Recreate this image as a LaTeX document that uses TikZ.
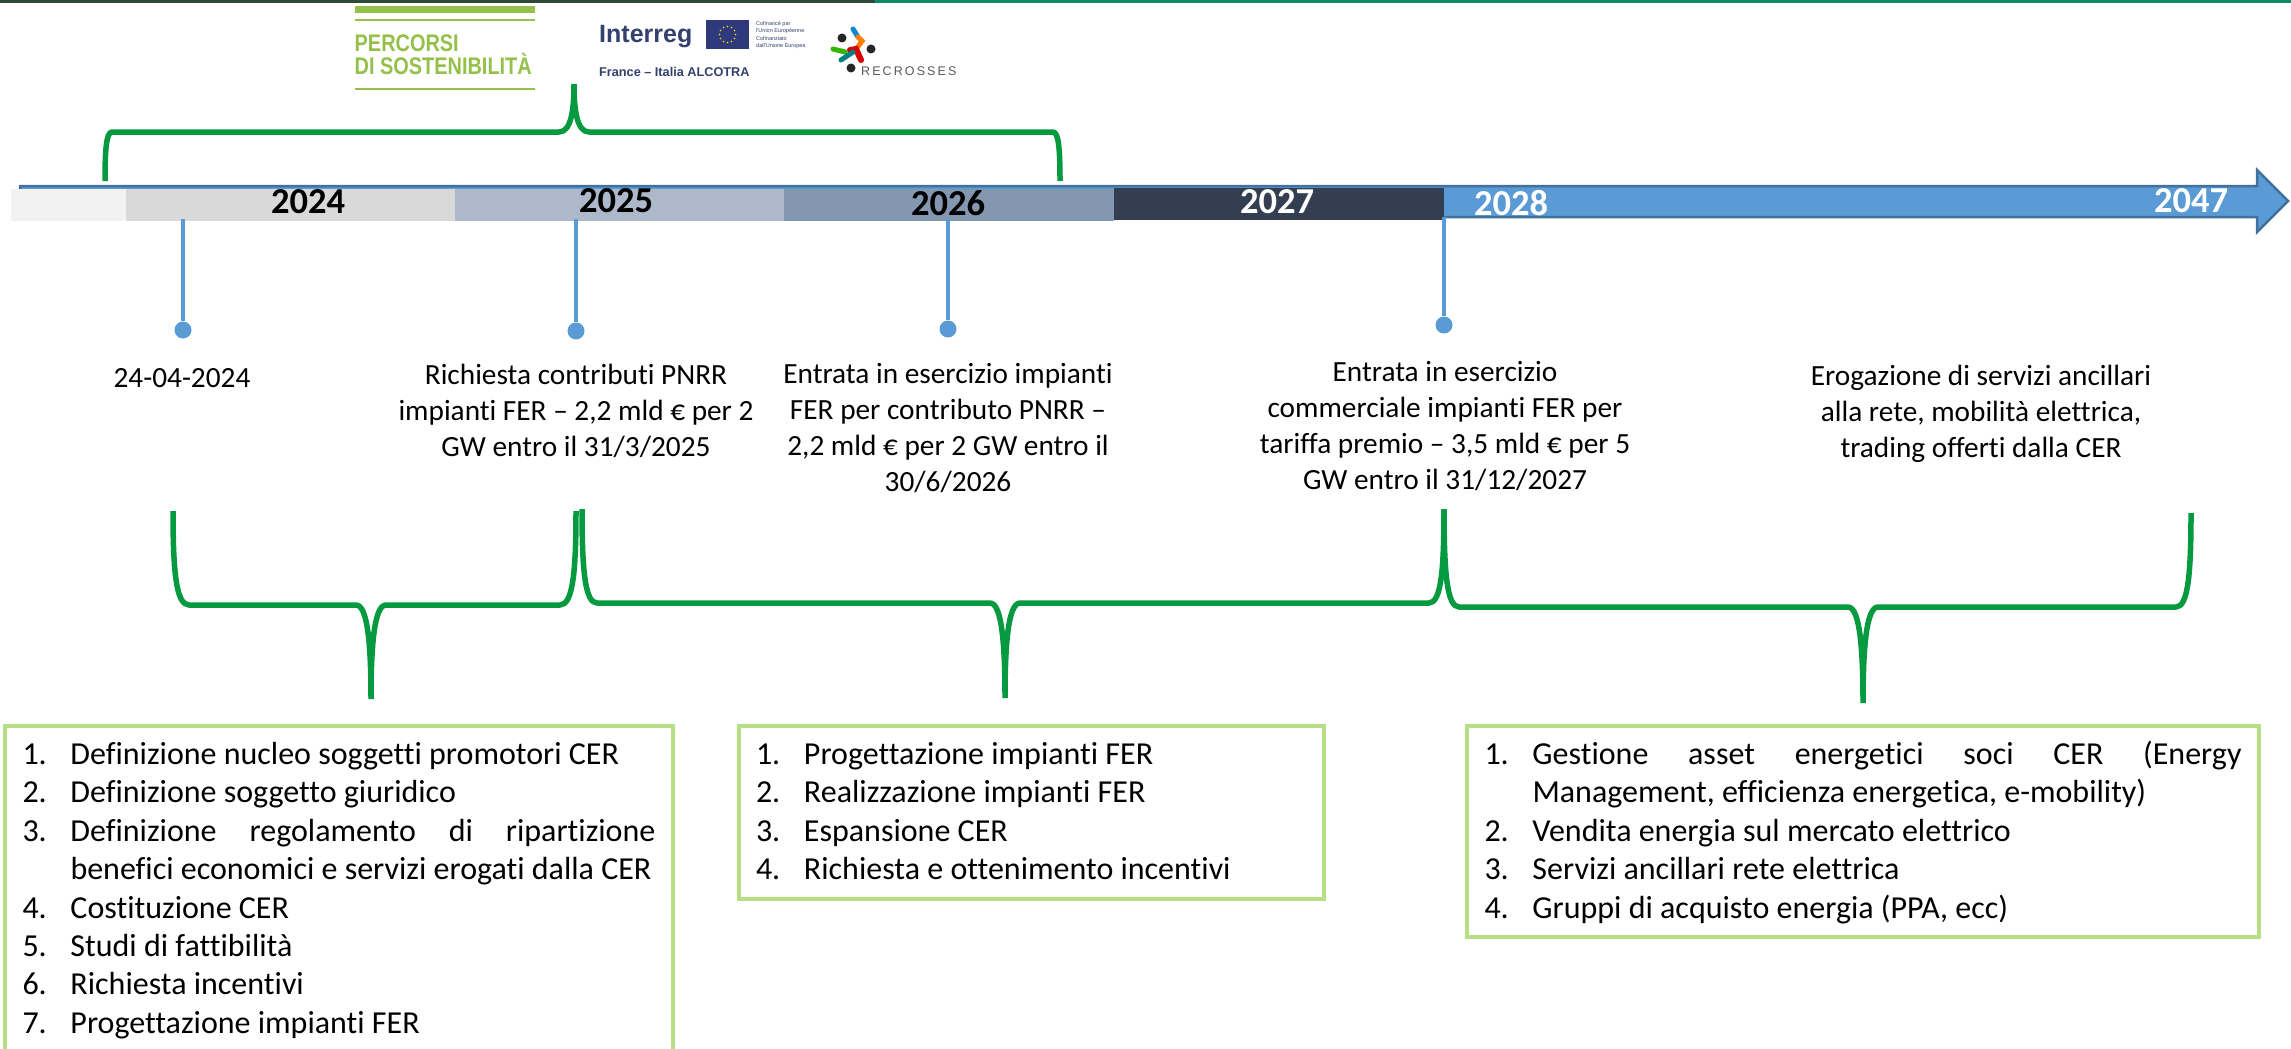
\documentclass[tikz,border=0pt]{standalone}
\usepackage{fontspec}
\setmainfont[Ligatures=NoCommon]{Carlito}
\newfontfamily\logofont{Liberation Sans}
\usetikzlibrary{positioning}

\definecolor{bracegreen}{HTML}{069A40}
\definecolor{boxgreen}{HTML}{B5DE85}
\definecolor{logogreen}{HTML}{95C04A}
\definecolor{logonavy}{HTML}{34416F}
\definecolor{arrowblue}{HTML}{5B9BD5}
\definecolor{arrowedge}{HTML}{41719C}
\definecolor{topdark}{HTML}{2F4A35}
\definecolor{topteal}{HTML}{0A8A6A}
\definecolor{bar2025col}{HTML}{ADB9CA}
\definecolor{bar2026col}{HTML}{8497B0}
\definecolor{bar2027col}{HTML}{333F50}

\newcommand{\numitem}[2]{\par\noindent\hangindent=48pt\hangafter=1\hbox to 48pt{#1\hfill}#2\par}
\newcommand{\listpad}{\rule[-19pt]{0pt}{1pt}}
\newcommand{\greenbrace}[8]{%
    \draw[bracestroke] (#1,#2)
    .. controls (#1,{#2+0.65*(#5-#2)}) and ({#1+0.2*#8},#5) .. ({#1+#8},#5)
    -- ({#6-15},#5)
    .. controls ({#6-3},#5) and (#6,{#5+0.45*(#7-#5)}) .. (#6,#7)
    .. controls (#6,{#5+0.45*(#7-#5)}) and ({#6+3},#5) .. ({#6+15},#5)
    -- ({#3-#8},#5)
    .. controls ({#3-0.2*#8},#5) and (#3,{#4+0.65*(#5-#4)}) .. (#3,#4);
}

\tikzset{
    bracestroke/.style={draw=bracegreen, line width=5.5pt, line join=bevel},
    yearbar/.style={rectangle, minimum height=32pt, inner sep=0pt},
    yearlabel/.style={font=\fontsize{36.5}{36.5}\selectfont\bfseries, inner sep=0pt},
    stem/.style={draw=arrowblue, line width=3.5pt},
    stemdot/.style={circle, fill=arrowblue, minimum size=17pt, inner sep=0pt},
    eventtext/.style={align=center, inner sep=0pt, font=\fontsize{29.3}{36}\selectfont},
    listbox/.style={draw=boxgreen, line width=4pt, anchor=north west, align=justify,
        inner xsep=17.5pt, inner ysep=0pt, font=\fontsize{32}{38.4}\selectfont},
    logorule/.style={fill=logogreen},
    logotitle/.style={inner sep=0pt, anchor=west, text=logogreen, font=\logofont\fontsize{24}{24}\selectfont\bfseries},
    logotext/.style={inner sep=0pt, anchor=west, text=logonavy}
}

\begin{document}
\begin{tikzpicture}[x=1pt, y=-1pt]
    \useasboundingbox (0,0) rectangle (2291,1049);
    \clip (0,0) rectangle (2291,1049);

    \fill[white] (0,0) rectangle (2291,1049);
    \fill[topdark] (0,0) rectangle (875,3.5);
    \fill[topteal] (875,0) rectangle (2291,3.5);

    \fill[logorule] (354.5,6) rectangle (535,13);
    \fill[logorule] (354.5,19) rectangle (535,21.5);
    \fill[logorule] (354.5,88) rectangle (535,90);
    \node[logotitle] (percorsi) at (354.5,43) {\scalebox{.83}[1]{PERCORSI}};
    \node[logotitle] (sostenibilita) at (354.5,64) {\scalebox{.83}[1]{DI SOSTENIBILITÀ}};

    \node[logotext, font=\logofont\fontsize{25}{25}\selectfont\bfseries] (interreg) at (599,37) {Interreg};
    \node[logotext, font=\logofont\fontsize{12.7}{12.7}\selectfont\bfseries] (alcotra) at (599,72) {France – Italia ALCOTRA};
    \fill[logonavy!90!blue] (706,20) rectangle (749,49);
    \foreach \a in {0,30,...,330}
        \fill[yellow!85!orange] (727.5,34.5) ++(\a:8) circle (0.9);
    \node[logotext, font=\logofont\fontsize{5.5}{5.5}\selectfont] (eu1) at (756,24) {Cofinancé par};
    \node[logotext, font=\logofont\fontsize{5.5}{5.5}\selectfont] (eu2) at (756,31) {l'Union Européenne};
    \node[logotext, font=\logofont\fontsize{5.5}{5.5}\selectfont] (eu3) at (756,39) {Cofinanziato};
    \node[logotext, font=\logofont\fontsize{5.5}{5.5}\selectfont] (eu4) at (756,46) {dall'Unione Europea};

    \draw[cyan!70!blue, line width=5pt, line cap=round] (853,29) -- (858,37);
    \draw[orange, line width=5pt, line cap=round] (858,37) -- (862,41) -- (857,48);
    \draw[green!65!black!80!yellow, line width=5pt, line cap=round] (833,49) -- (845,52);
    \draw[red!85!black, line width=6pt, line cap=round] (850,50) -- (856,49) -- (861,60);
    \draw[teal, line width=5pt, line cap=round] (853,52) -- (841,60);
    \fill[black!85] (842,38) circle (4.5);
    \fill[black!85] (871,49) circle (4.5);
    \fill[black!85] (851,68) circle (4.5);
    \node[logotext, text=black!65, font=\logofont\fontsize{12.5}{12.5}\selectfont] (recrosses) at (861,71) {R\,E\,C\,R\,O\,S\,S\,E\,S};

    \draw[fill=arrowblue, draw=arrowedge, line width=2.5pt]
    (20,186) -- (2257,186) -- (2257,170) -- (2288,201) -- (2257,232) -- (2257,217) -- (20,217) -- cycle;

    \node[yearbar, minimum width=115pt, fill=black!5] (bar0) at (68.5,204.5) {};
    \node[yearbar, minimum width=329pt, fill=black!15] (bar2024) at (290.5,204.5) {};
    \node[yearbar, minimum width=329pt, fill=bar2025col] (bar2025) at (619.5,204.5) {};
    \node[yearbar, minimum width=330pt, fill=bar2026col] (bar2026) at (949,204.5) {};
    \node[yearbar, minimum width=330pt, fill=bar2027col] (bar2027) at (1279,204) {};

    \node[yearlabel] (y2024) at (308,202) {2024};
    \node[yearlabel] (y2025) at (616,201) {2025};
    \node[yearlabel] (y2026) at (948,203) {2026};
    \node[yearlabel, text=white] (y2027) at (1277,202) {2027};
    \node[yearlabel, text=white] (y2028) at (1511,203) {2028};
    \node[yearlabel, text=white] (y2047) at (2191,201) {2047};

    \coordinate (s1) at (183,219);
    \coordinate (s2) at (576,219);
    \coordinate (s3) at (948,219);
    \coordinate (s4) at (1444,217);
    \node[stemdot] (d1) at (183,330) {};
    \node[stemdot] (d2) at (576,331) {};
    \node[stemdot] (d3) at (948,329) {};
    \node[stemdot] (d4) at (1444,325) {};
    \draw[stem] (s1) -- (d1);
    \draw[stem] (s2) -- (d2);
    \draw[stem] (s3) -- (d3);
    \draw[stem] (s4) -- (d4);

    \node[eventtext] (ev1) at (182,378) {24-04-2024};
    \node[eventtext] (ev2) at (576,411) {Richiesta contributi PNRR\\impianti FER – 2,2 mld € per 2\\GW entro il 31/3/2025};
    \node[eventtext] (ev3) at (948,428) {Entrata in esercizio impianti\\FER per contributo PNRR –\\2,2 mld € per 2 GW entro il\\30/6/2026};
    \node[eventtext] (ev4) at (1445,426) {Entrata in esercizio\\commerciale impianti FER per\\tariffa premio – 3,5 mld € per 5\\GW entro il 31/12/2027};
    \node[eventtext] (ev5) at (1981,414) {Erogazione di servizi ancillari\\alla rete, mobilità elettrica,\\trading offerti dalla CER};

    \greenbrace{105}{181}{1060}{181}{132}{574}{84}{7}
    \greenbrace{173}{511}{576}{511}{605}{371}{699}{16}
    \greenbrace{582}{509}{1444}{509}{603}{1005}{698}{15}
    \greenbrace{1444}{509}{2191}{513}{607}{1863}{703}{15}

    \node[listbox, text width=633pt] (box1) at (3,724) {%
        \numitem{1.}{Definizione nucleo soggetti promotori CER}
        \numitem{2.}{Definizione soggetto giuridico}
        \numitem{3.}{Definizione regolamento di ripartizione\linebreak benefici economici e servizi erogati dalla CER}
        \numitem{4.}{Costituzione CER}
        \numitem{5.}{Studi di fattibilità}
        \numitem{6.}{Richiesta incentivi}
        \numitem{7.}{Progettazione impianti FER\listpad}};

    \node[listbox, text width=550pt] (box2) at (736.5,724) {%
        \numitem{1.}{Progettazione impianti FER}
        \numitem{2.}{Realizzazione impianti FER}
        \numitem{3.}{Espansione CER}
        \numitem{4.}{Richiesta e ottenimento incentivi\listpad}};

    \node[listbox, text width=757pt] (box3) at (1465,724) {%
        \numitem{1.}{Gestione asset energetici soci CER (Energy\linebreak Management, efficienza energetica, e-mobility)}
        \numitem{2.}{Vendita energia sul mercato elettrico}
        \numitem{3.}{Servizi ancillari rete elettrica}
        \numitem{4.}{Gruppi di acquisto energia (PPA, ecc)\listpad}};
\end{tikzpicture}
\end{document}
